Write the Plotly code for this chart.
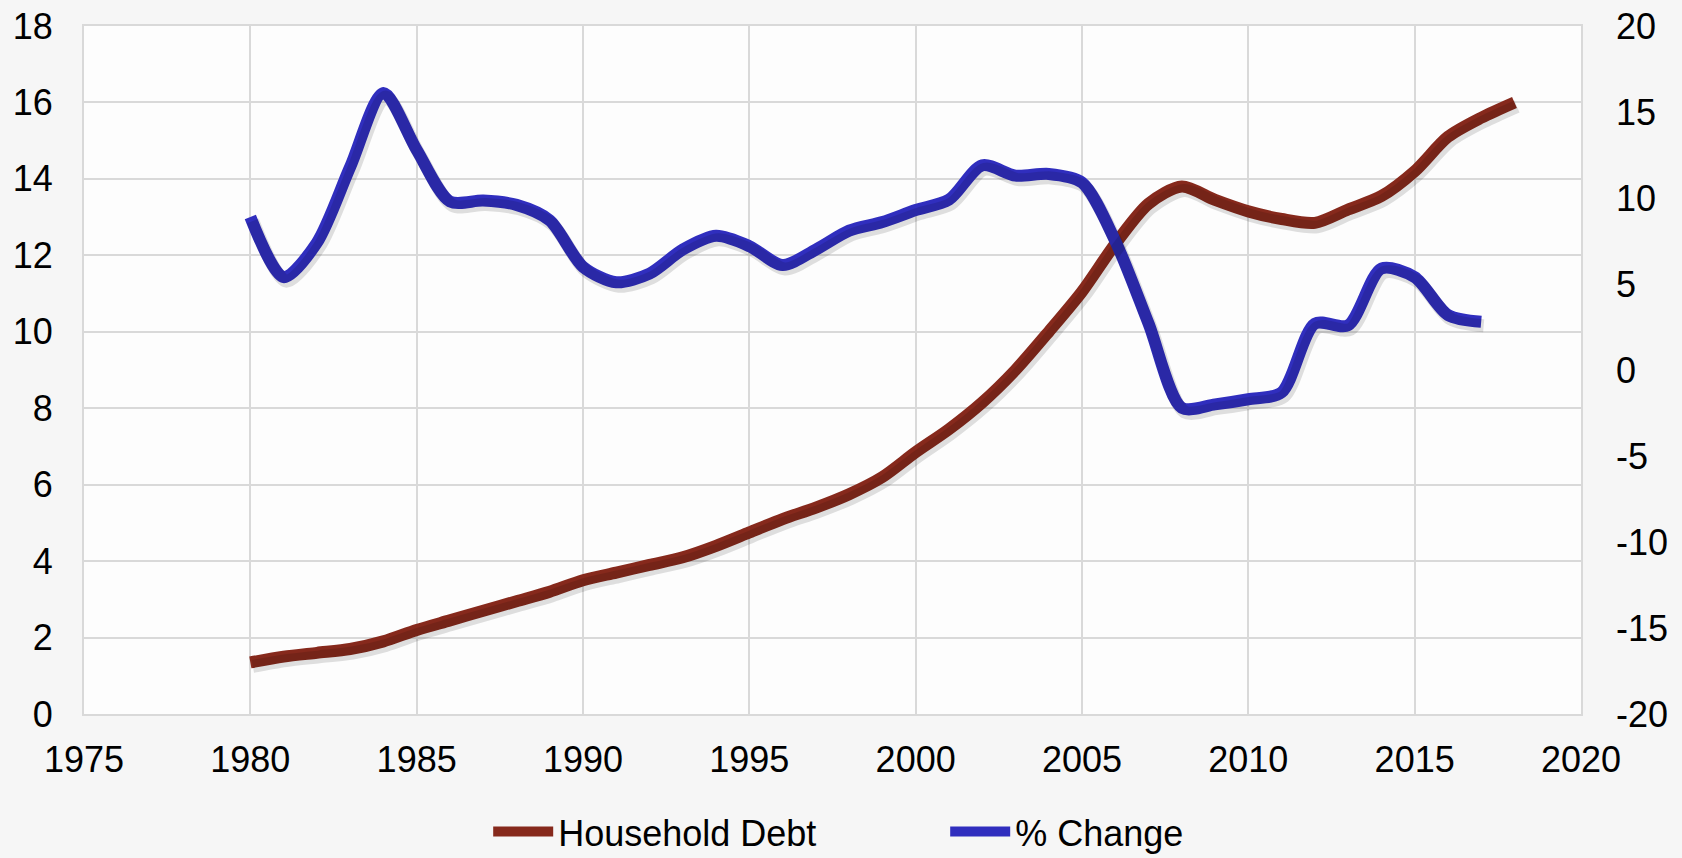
import plotly.graph_objects as go

years_debt = list(range(1980, 2019))
household_debt = [1.35, 1.5, 1.6, 1.7, 1.9, 2.2, 2.45, 2.7, 2.95, 3.2,
                  3.5, 3.7, 3.9, 4.1, 4.4, 4.75, 5.1, 5.4, 5.75, 6.2,
                  6.85, 7.45, 8.15, 9.0, 10.0, 11.05, 12.3, 13.35, 13.8, 13.45,
                  13.15, 12.95, 12.85, 13.2, 13.55, 14.2, 15.1, 15.6, 16.0]

years_pct = list(range(1980, 2018))
pct_change = [8.9, 5.4, 7.4, 11.8, 16.1, 12.8, 9.8, 9.85, 9.6, 8.7,
              6.0, 5.1, 5.6, 7.0, 7.8, 7.2, 6.1, 7.0, 8.1, 8.6,
              9.3, 9.9, 11.9, 11.3, 11.4, 10.9, 7.5, 2.7, -2.2, -2.0,
              -1.7, -1.3, 2.7, 2.6, 5.9, 5.4, 3.2, 2.8]

x_ticks = list(range(1975, 2021, 5))
left_ticks = list(range(0, 19, 2))
right_ticks = list(range(-20, 21, 5))

RED = "#86291C"
BLUE = "#302EBE"
SHADOW = "rgba(0,0,0,0.12)"
FONT = "Liberation Sans, Arial, sans-serif"

# pixel geometry of plot area: 1497 px wide (45 years), 688 px tall
dx = -2.5 * 45 / 1497     # shift shadow ~2.5px to the right
dy_left = 4 * 18 / 688     # shift shadow ~4px down
dy_right = 4 * 40 / 688

fig = go.Figure()
# shadows
fig.add_trace(go.Scatter(x=years_debt, y=household_debt, mode="lines", showlegend=False,
                         hoverinfo="skip",
                         line=dict(color=SHADOW, width=13, shape="spline", smoothing=0.8),
                         xaxis="x2", yaxis="y3"))
fig.add_trace(go.Scatter(x=years_pct, y=pct_change, mode="lines", showlegend=False,
                         hoverinfo="skip",
                         line=dict(color=SHADOW, width=13, shape="spline", smoothing=0.8),
                         xaxis="x2", yaxis="y4"))
# main lines
fig.add_trace(go.Scatter(x=years_debt, y=household_debt, name="Household Debt",
                         mode="lines", line=dict(color=RED, width=12, shape="spline", smoothing=0.8),
                         yaxis="y"))
fig.add_trace(go.Scatter(x=years_pct, y=pct_change, name="% Change",
                         mode="lines", line=dict(color=BLUE, width=12, shape="spline", smoothing=0.8),
                         yaxis="y2"))

hidden = dict(visible=False, showgrid=False, zeroline=False, fixedrange=True)

fig.update_layout(
    width=1682, height=858,
    margin=dict(l=84, r=101, t=26, b=144, autoexpand=False),
    paper_bgcolor="#f6f6f6",
    plot_bgcolor="#fdfdfd",
    font=dict(family=FONT, size=36, color="#000000"),
    showlegend=True,
    legend=dict(orientation="h", x=0.27, xanchor="left", y=-0.171, yanchor="middle",
                font=dict(size=36, family=FONT), bgcolor="rgba(0,0,0,0)",
                itemwidth=60, entrywidth=382, tracegroupgap=0),
    xaxis=dict(range=[1975, 2020], tickmode="array", tickvals=x_ticks,
               showgrid=True, gridcolor="#d9d9d9", gridwidth=2,
               showline=True, linecolor="#d9d9d9", linewidth=2, mirror=True,
               zeroline=False, ticks="", ticklabelstandoff=13),
    xaxis2=dict(range=[1975 + dx, 2020 + dx], overlaying="x", **hidden),
    yaxis=dict(range=[0, 18], tickmode="array", tickvals=left_ticks,
               showgrid=True, gridcolor="#d9d9d9", gridwidth=2,
               showline=True, linecolor="#d9d9d9", linewidth=2, mirror=True,
               zeroline=False, ticks="", ticklabelstandoff=22),
    yaxis2=dict(range=[-20, 20], tickmode="array", tickvals=right_ticks,
                ticktext=[str(v) for v in right_ticks],
                overlaying="y", side="right", showgrid=False, zeroline=False,
                showline=False, ticks="", ticklabelstandoff=34),
    yaxis3=dict(range=[0 + dy_left, 18 + dy_left], overlaying="y", **hidden),
    yaxis4=dict(range=[-20 + dy_right, 20 + dy_right], overlaying="y", **hidden),
)

fig.write_html("out.html", config={"displayModeBar": False},
               post_script="document.body.style.margin='0px';")
